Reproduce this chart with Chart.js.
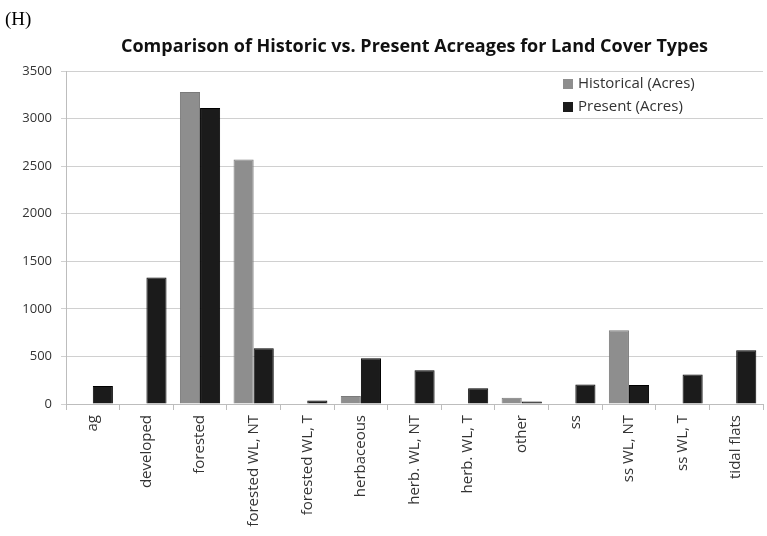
<!DOCTYPE html>
<html>
<head>
<meta charset="utf-8">
<script src="https://cdn.jsdelivr.net/npm/chart.js@4"></script>
<style>
html,body{margin:0;padding:0;background:#fff;}
#wrap{position:relative;width:767px;height:536px;}
</style>
</head>
<body>
<div id="wrap"><canvas id="c" width="767" height="536"></canvas></div>
<script>
const categories = ["ag","developed","forested","forested WL, NT","forested WL, T","herbaceous","herb. WL, NT","herb. WL, T","other","ss","ss WL, NT","ss WL, T","tidal flats"];
const historical = [0, 0, 3280, 2570, 0, 85, 0, 0, 65, 0, 775, 0, 0];
const present = [190, 1330, 3110, 585, 38, 480, 355, 165, 25, 205, 200, 310, 565];
const yTicks = [0, 500, 1000, 1500, 2000, 2500, 3000, 3500];
const seriesNames = ["Historical (Acres)", "Present (Acres)"];
const panelLabel = "(H)";
const chartTitle = "Comparison of Historic vs. Present Acreages for Land Cover Types";

const decor = {
  id: 'decor',
  afterDraw(chart) {
    const ctx = chart.ctx;
    const ca = chart.chartArea;
    ctx.save();
    ctx.fillStyle = '#000';
    ctx.font = '19px "Liberation Serif"';
    ctx.textAlign = 'left';
    ctx.textBaseline = 'middle';
    ctx.fillText(panelLabel, 5, 20);
    ctx.font = 'bold 18px "Open Sans"';
    ctx.textAlign = 'center';
    ctx.fillStyle = '#111';
    ctx.fillText(chartTitle, (ca.left + ca.right) / 2, 47);
    // legend
    ctx.font = '15px "Open Sans"';
    ctx.textAlign = 'left';
    chart.data.datasets.forEach((ds, i) => {
      const y = 84 + i * 23;
      ctx.fillStyle = ds.backgroundColor;
      ctx.fillRect(563, y - 5, 10, 10);
      ctx.fillStyle = '#333';
      ctx.fillText(ds.label, 578, y);
    });
    ctx.restore();
  }
};

new Chart(document.getElementById('c'), {
  type: 'bar',
  data: {
    labels: categories,
    datasets: [
      { label: seriesNames[0], data: historical, backgroundColor: '#8e8e8e', borderColor: '#7a7a7a', borderWidth: 1 },
      { label: seriesNames[1], data: present, backgroundColor: '#1b1b1b', borderColor: '#000', borderWidth: 1 }
    ]
  },
  options: {
    responsive: false,
    animation: false,
    layout: { padding: { top: 71, right: 4, left: 0, bottom: 0 } },
    categoryPercentage: 0.75,
    barPercentage: 1.0,
    plugins: { legend: { display: false }, title: { display: false }, tooltip: { enabled: false } },
    scales: {
      x: {
        grid: { drawOnChartArea: false, color: '#bdbdbd', tickLength: 6, offset: true },
        border: { color: '#bdbdbd' },
        ticks: { minRotation: 90, maxRotation: 90, autoSkip: false, color: '#333', font: { family: 'Open Sans', size: 15 }, padding: 5 },
        afterFit(s) { s.height = 132; }
      },
      y: {
        min: 0, max: 3500,
        afterBuildTicks(s) { s.ticks = yTicks.map(v => ({ value: v })); },
        grid: { color: '#d0d0d0', tickLength: 5 },
        border: { color: '#bdbdbd' },
        ticks: { color: '#333', font: { family: 'Open Sans', size: 13 }, padding: 9, callback: v => String(v) },
        afterFit(s) { s.width = 66; }
      }
    }
  },
  plugins: [decor]
});
</script>
</body>
</html>
